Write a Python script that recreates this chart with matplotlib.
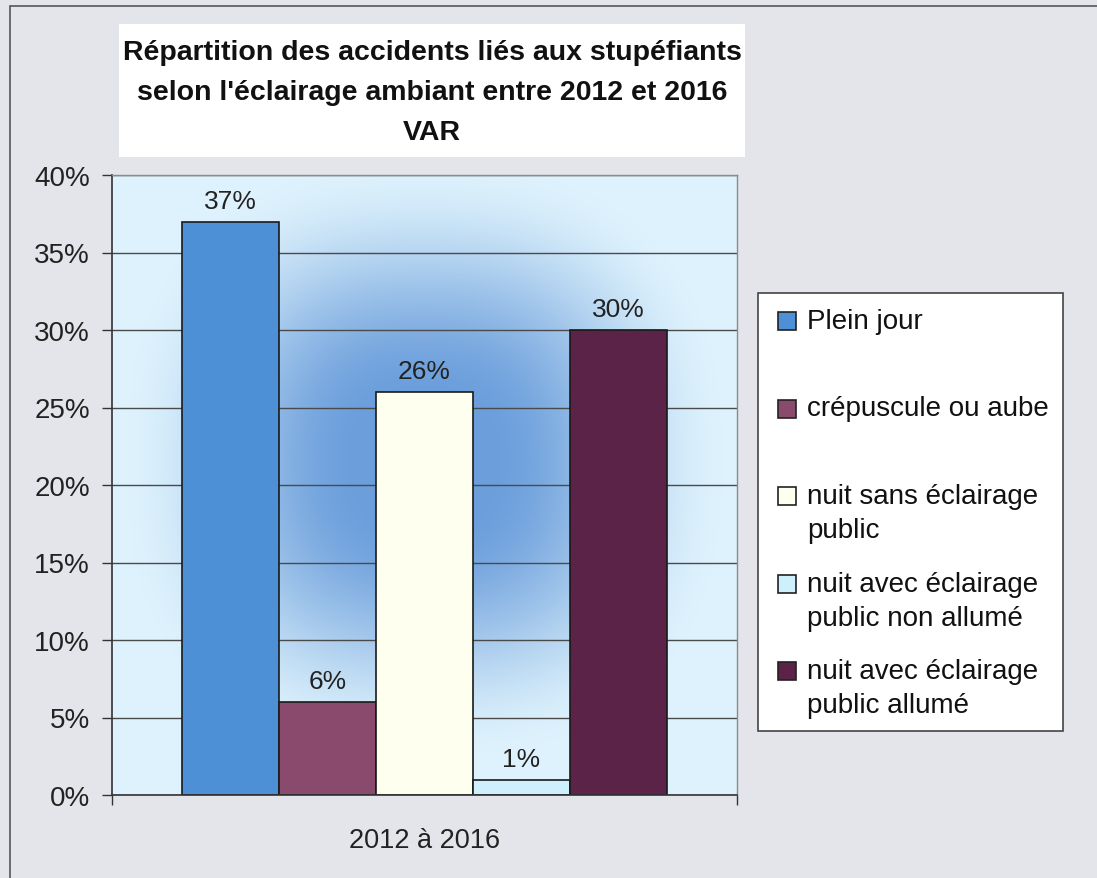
import numpy as np
import matplotlib
matplotlib.use('Agg')
import matplotlib.pyplot as plt
from matplotlib.patches import Rectangle

# Données
categorie = '2012 à 2016'
series = ['Plein jour', 'crépuscule ou aube', 'nuit sans éclairage\npublic',
          'nuit avec éclairage\npublic non allumé', 'nuit avec éclairage\npublic allumé']
valeurs = [37, 6, 26, 1, 30]
couleurs = ['#4d90d6', '#8a4a6d', '#fffff0', '#cdf0fc', '#5b2347']
yticks = [0, 5, 10, 15, 20, 25, 30, 35, 40]
titre = ("Répartition des accidents liés aux stupéfiants\n"
         "selon l'éclairage ambiant entre 2012 et 2016\nVAR")

W, H = 1097, 879
plt.rcParams['font.family'] = ['Liberation Sans', 'DejaVu Sans']


def fx(x):
    return x / W


def fy(y):
    return 1 - y / H


fig = plt.figure(figsize=(W / 100, H / 100), dpi=100, facecolor='#e3e5ea')

# cadre du graphique
fig.patches.append(Rectangle((fx(10), -0.1), 1.2, fy(7) + 0.1, transform=fig.transFigure,
                             fill=False, edgecolor='#555555', lw=1.2))

# zone de traçage
ax = fig.add_axes([fx(112), fy(796), fx(625), 620 / H])
ax.set_xlim(-0.5 - 0.72, 4.5 + 0.72)
ax.set_ylim(0, 40)

# fond dégradé (halo bleu au centre)
gx = np.linspace(-1, 1, 300)
gy = np.linspace(-1, 1, 300)
X, Y = np.meshgrid(gx, gy)
d = (np.abs(X / 0.98) ** 2.5 + np.abs((Y - 0.08) / 0.98) ** 2.5) ** (1 / 2.5)
u = np.clip((1 - d) / 0.8, 0, 1)
t = u * u * (3 - 2 * u)
c_bord = np.array([0.87, 0.95, 0.99])
c_centre = np.array([0.42, 0.62, 0.86])
img = c_bord + (c_centre - c_bord) * t[..., None]
ax.imshow(img, extent=[ax.get_xlim()[0], ax.get_xlim()[1], 0, 40], aspect='auto',
          zorder=0, origin='lower')

ax.set_yticks(yticks)
ax.set_yticklabels([f'{v}%' for v in yticks], fontsize=20, color='#222222')
ax.yaxis.grid(True, color='#4a4a4a', lw=1.0, zorder=1)
ax.set_axisbelow(True)
ax.tick_params(axis='y', length=7, width=1, color='#333333', pad=9)
ax.set_xticks([ax.get_xlim()[0], ax.get_xlim()[1]])
ax.set_xticklabels(['', ''])
ax.tick_params(axis='x', length=7, width=1, color='#333333')
for s in ['top', 'right']:
    ax.spines[s].set_color('#8a8a8a')
    ax.spines[s].set_linewidth(1)
for s in ['left', 'bottom']:
    ax.spines[s].set_color('#333333')
    ax.spines[s].set_linewidth(1.2)

pos = np.arange(len(valeurs))
barres = ax.bar(pos, valeurs, width=1.0, color=couleurs, edgecolor='#1a1a1a', lw=1.2, zorder=2)
for b, v in zip(barres, valeurs):
    ax.text(b.get_x() + b.get_width() / 2, v + 0.55, f'{v}%', ha='center', va='bottom',
            fontsize=19, color='#222222', zorder=3)

ax.text(0.5, -0.072, categorie, transform=ax.transAxes, ha='center', va='center',
        fontsize=19.5, color='#222222')

# titre dans son cadre blanc
fig.patches.append(Rectangle((fx(119), fy(158)), fx(626), 133 / H, transform=fig.transFigure,
                             facecolor='white', edgecolor='none'))
fig.text(fx(432), fy(93), titre, ha='center', va='center', fontsize=20.5, fontweight='bold',
         linespacing=1.68, color='#111111')

# légende
fig.patches.append(Rectangle((fx(758), fy(732)), fx(305), 438 / H, transform=fig.transFigure,
                             facecolor='white', edgecolor='#444444', lw=1.2))
for i, (nom, c) in enumerate(zip(series, couleurs)):
    yc = 322 + i * 87.5
    fig.patches.append(Rectangle((fx(778), fy(yc + 9)), fx(18), 18 / H, transform=fig.transFigure,
                                 facecolor=c, edgecolor='#222222', lw=1.2))
    fig.text(fx(807), fy(yc - 13), nom, ha='left', va='top', fontsize=20,
             linespacing=1.42, color='#111111')

fig.savefig('out.png', dpi=100, facecolor=fig.get_facecolor())
